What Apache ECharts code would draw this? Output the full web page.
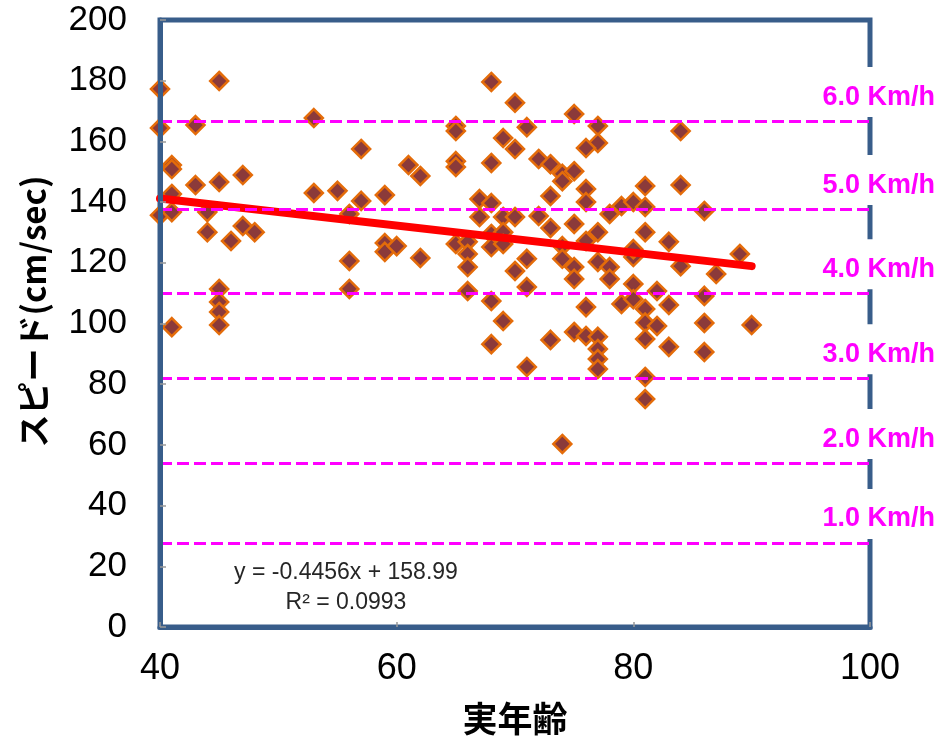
<!DOCTYPE html>
<html>
<head>
<meta charset="utf-8">
<script src="https://cdn.jsdelivr.net/npm/echarts@6/dist/echarts.min.js"></script>
<style>
html,body{margin:0;padding:0;background:#fff;}
#chart{width:943px;height:743px;}
</style>
</head>
<body>
<div id="chart"></div>
<script>
// Ages (実年齢) and speeds (cm/sec)
var ages = [
  40,45,40,43,53,57,41,41,43,45,47,41,40,41,44,44,46,47,48,53,55,57,56,59,59,59,56,56,45,45,45,45,41,
  68,70,75,65,65,71,77,69,70,77,76,61,62,65,65,68,72,73,74,74,75,73,76,76,67,68,67,69,70,72,73,75,77,78,79,80,
  60,62,65,66,66,66,68,68,69,69,71,70,74,74,75,75,76,77,78,78,66,71,68,69,76,79,68,73,75,76,77,77,77,77,71,
  84,81,84,86,81,81,83,89,80,80,84,87,80,82,80,81,83,86,81,82,86,90,81,83,86,81,81,74
];
var speeds = [
  177.3,179.9,164.4,165.4,167.7,157.5,152.2,150.9,145.6,146.6,148.9,142.7,135.7,136.7,136.7,130.1,127.2,132.1,130.1,143,143.7,140.4,136.1,142.3,126.5,123.6,120.6,111.4,111.4,107.1,103.8,99.5,98.8,
  179.6,172.7,169,165.1,163.4,164.7,165.1,161.1,157.5,159.5,157.8,152.2,148.6,153.5,151.6,152.9,154.2,152.5,149.3,146.9,150.2,142,144.3,140,141,139.7,135.1,135.1,135.1,135.4,131.5,132.8,130.1,136.1,138.7,140,
  125.5,121.6,126.2,126.9,122.9,118.6,129.5,125.2,130.1,126.2,121.3,117.3,125.5,121.3,118.6,114.7,127.2,120.3,118.6,114.7,110.7,112,107.4,100.8,105.4,106.4,93.2,94.6,97.2,95.9,95.6,91.6,88.3,85,85.7,
  163.4,145.3,145.6,137.1,138.4,130.1,126.9,122.9,121.9,124.5,118.9,116.3,113,110.7,108,104.8,106.1,109.1,100.3,99.2,100.2,99.5,94.9,92.3,90.6,82.4,75.1,60.3
];
// Trend line endpoints (from y = -0.4456x + 158.99)
var trendAges = [40, 90];
var trendSpeeds = [141.2, 118.9];
// Walking-speed reference lines
var kmhLabels = ['1.0 Km/h','2.0 Km/h','3.0 Km/h','4.0 Km/h','5.0 Km/h','6.0 Km/h'];
var kmhLineSpeeds = [27.7, 54.0, 82.0, 110.0, 137.7, 166.7];
// Axis ticks
var xTicks = {min: 40, max: 100, interval: 20};
var yTicks = {min: 0, max: 200, interval: 20};
var equationText = ['y = -0.4456x + 158.99', 'R² = 0.0993'];

var points = ages.map(function (a, i) { return [a, speeds[i]]; });
var trend = trendAges.map(function (a, i) { return [a, trendSpeeds[i]]; });
var lines = kmhLineSpeeds.map(function (v, i) { return { yAxis: v, name: kmhLabels[i] }; });

var tickFont = "'Liberation Sans', Arial, sans-serif";
var frameColor = '#385D8A';

var chart = echarts.init(document.getElementById('chart'), null, {renderer: 'canvas'});
chart.setOption({
  animation: false,
  backgroundColor: '#ffffff',
  grid: {
    left: 160, right: 73, top: 20, bottom: 116,
    show: true, borderColor: frameColor, borderWidth: 5, backgroundColor: 'transparent'
  },
  xAxis: {
    type: 'value', min: xTicks.min, max: xTicks.max, interval: xTicks.interval,
    z: 5,
    axisLine: {show: true, onZero: false, lineStyle: {color: frameColor, width: 5}},
    axisTick: {show: true, inside: true, length: 5, lineStyle: {color: '#999', width: 1.5}},
    splitLine: {show: false},
    axisLabel: {margin: 24, color: '#000', fontSize: 36, fontFamily: tickFont},
    name: '実年齢', nameLocation: 'middle', nameGap: 74,
    nameTextStyle: {color: '#000', fontSize: 35, fontWeight: 'bold', fontFamily: "'Noto Sans CJK JP', sans-serif"}
  },
  yAxis: {
    type: 'value', min: yTicks.min, max: yTicks.max, interval: yTicks.interval,
    z: 5,
    axisLine: {show: true, onZero: false, lineStyle: {color: frameColor, width: 5}},
    axisTick: {show: true, inside: true, length: 6, lineStyle: {color: '#999', width: 1.5}},
    splitLine: {show: false},
    axisLabel: {margin: 33, color: '#000', fontSize: 35, fontFamily: tickFont},
    name: 'スピード(cm/sec)', nameLocation: 'middle', nameGap: 110, nameRotate: 90,
    nameTextStyle: {color: '#000', fontSize: 33, fontWeight: 'bold', fontFamily: "'Noto Sans CJK JP', sans-serif", padding: [0, 0, 0, 24]}
  },
  series: [
    {
      type: 'scatter',
      data: points,
      symbol: 'diamond',
      symbolSize: 18,
      clip: false,
      z: 2,
      itemStyle: {color: '#8B3A3A', borderColor: '#E46C0A', borderWidth: 2.5, opacity: 1}
    },
    {
      type: 'line',
      data: trend,
      symbol: 'none',
      z: 3,
      clip: false,
      lineStyle: {color: '#FF0000', width: 8, cap: 'round'}
    },
    {
      type: 'line',
      data: [],
      z: 4,
      markLine: {
        silent: true,
        symbol: ['none', 'none'],
        lineStyle: {color: '#FF00FF', width: 3, type: [12, 5]},
        label: {
          show: true,
          formatter: '{b}',
          position: 'insideEndTop',
          distance: 4,
          offset: [75, 0],
          color: '#FF00FF',
          fontSize: 27,
          fontWeight: 'bold',
          fontFamily: "'Liberation Sans', Arial, sans-serif",
          lineHeight: 30,
          backgroundColor: '#ffffff',
          padding: [15, 6, 5, 6]
        },
        data: lines
      }
    }
  ],
  graphic: [
    {
      type: 'text',
      x: 346, y: 588,
      z: 10,
      style: {
        text: equationText.join('\n'),
        textAlign: 'center',
        textVerticalAlign: 'middle',
        fill: '#262626',
        fontSize: 23,
        lineHeight: 30,
        fontFamily: "'Liberation Sans', Arial, sans-serif"
      }
    }
  ]
});
</script>
</body>
</html>
